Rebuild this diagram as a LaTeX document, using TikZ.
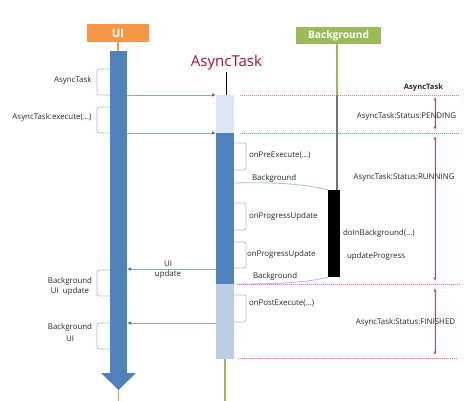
\documentclass[tikz,border=0pt]{standalone}
\usepackage{fontspec}
\setmainfont{Open Sans}
\usetikzlibrary{arrows.meta}
\definecolor{uiorange}{HTML}{F79646}
\definecolor{bggreen}{HTML}{9BBB59}
\definecolor{barblue}{HTML}{4F81BD}
\definecolor{palebl}{HTML}{DCE6F2}
\definecolor{lightbl}{HTML}{B9CDE5}
\definecolor{titlered}{HTML}{A8102A}
\definecolor{brk}{HTML}{AEBACB}
\definecolor{msgc}{HTML}{8DA8CE}
\definecolor{msgtip}{HTML}{4F6FA8}
\definecolor{dotred}{HTML}{FF6A7A}
\definecolor{arrred}{HTML}{F03040}
\definecolor{curvec}{HTML}{A3BFD9}
\begin{document}
\begin{tikzpicture}[x=1pt,y=-1pt,
  every node/.style={inner sep=0pt,outer sep=0pt},
  lbl/.style={font=\fontsize{7.9}{9.5}\selectfont,text=black!85},
  lblc/.style={lbl,align=center},
  header/.style={text=white},
  bar/.style={anchor=north west},
  brkt/.style={draw=brk,line width=0.7pt,rounded corners=2pt},
  msg/.style={draw=msgc,line width=0.8pt,-{Latex[length=4pt,width=3.5pt,color=msgtip]}},
  dotl/.style={draw=dotred,line width=0.8pt,dash pattern=on 1pt off 1pt},
  redarr/.style={draw=arrred,line width=0.7pt,{Latex[length=3.5pt,width=3pt]}-{Latex[length=3.5pt,width=3pt]}},
  curv/.style={draw=curvec,line width=0.8pt}
]
\useasboundingbox (0,0) rectangle (474,401);

% headers
\node[header,fill=uiorange,minimum width=62pt,minimum height=18pt,font=\bfseries\fontsize{11.5}{13}\selectfont] (uih) at (118,33) {UI};
\node[header,fill=bggreen,minimum width=85pt,minimum height=17pt,font=\bfseries\fontsize{10.2}{12}\selectfont] (bgh) at (338.5,35.5) {Background};
\node[text=titlered,font=\fontsize{15}{17}\selectfont] (att) at (226.5,63) {AsyncTask};

% UI bar (arrow)
\node[bar,fill=barblue,minimum width=17pt,minimum height=322pt] (uibar) at (110,51) {};
\fill[barblue] (101,373) -- (136,373) -- (118.5,390) -- cycle;
\coordinate (uiend) at (118.5,390);
\coordinate (uibot) at (118.5,401);
\draw[uiorange,line width=1.5pt] (uih.south) -- (uih.south |- uibar.north);
\draw[uiorange,line width=1.5pt] (uiend) -- (uibot);

% AsyncTask bar
\node[bar,fill=palebl,minimum width=18pt,minimum height=38pt] (at1) at (216,95) {};
\node[bar,fill=barblue,minimum width=18pt,minimum height=151pt] (at2) at (216,133) {};
\node[bar,fill=lightbl,minimum width=18pt,minimum height=75pt] (at3) at (216,284) {};
\coordinate (atbot) at (225,401);
\coordinate (attl) at (226,72);
\draw[black,line width=0.8pt] (attl) -- (attl |- at1.north);
\draw[bggreen,line width=1.5pt] (at3.south) -- (atbot);

% curves to/from background (drawn under the box)
\coordinate (c1s) at (234,183);
\coordinate (c1e) at (329,190);
\coordinate (c2s) at (329,277);
\coordinate (c2e) at (234,284);
\draw[curv] (c1s) .. controls (275,182) and (305,184) .. (c1e);
\draw[curv] (c2s) .. controls (305,283) and (275,284) .. (c2e);

% Background lane
\node[bar,fill=black,minimum width=12pt,minimum height=87pt] (bgbox) at (328,190) {};
\coordinate (bgmid) at (337,95);
\draw[bggreen,line width=1.5pt] (bgh.south -| bgmid) -- (bgmid);
\draw[black!55,line width=1.5pt] (bgmid) -- (bgmid |- bgbox.north);

% red dotted state lines
\coordinate (d1) at (240,95);
\coordinate (d1e) at (460,95);
\coordinate (d2) at (240,133);
\coordinate (d2e) at (460,133);
\coordinate (d3) at (239,284);
\coordinate (d3e) at (460,284);
\coordinate (d4) at (238,358);
\coordinate (d4e) at (458,358);
\draw[dotl] (d1) -- (d1e);
\draw[dotl] (d2) -- (d2e);
\draw[dotl] (d3) -- (d3e);
\draw[dotl] (d4) -- (d4e);

% red state arrows
\coordinate (p1) at (435,97);  \coordinate (p2) at (435,130);
\coordinate (r1) at (435,136); \coordinate (r2) at (435,281);
\coordinate (f1) at (435,288); \coordinate (f2) at (435,355);
\draw[redarr] (p1) -- (p2);
\draw[redarr] (r1) -- (r2);
\draw[redarr] (f1) -- (f2);

\node[lbl,font=\bfseries\fontsize{7.6}{9}\selectfont] (stt) at (423.5,88) {AsyncTask};
\node[lbl] (sp) at (406.5,116) {AsyncTask:Status:PENDING};
\node[lbl] (sr) at (404,177) {AsyncTask:Status:RUNNING};
\node[lbl] (sf) at (405.5,322) {AsyncTask:Status:FINISHED};

% left brackets and labels
\draw[brkt] (110,69) -- (97,69) -- (97,95) -- (110,95);
\draw[brkt] (110,107) -- (97,107) -- (97,133) -- (110,133);
\draw[brkt] (110,270) -- (97,270) -- (97,296) -- (110,296);
\draw[brkt] (110,323) -- (97,323) -- (97,349) -- (110,349);
\node[lbl,anchor=east] (l1) at (91.5,80) {AsyncTask};
\node[lbl,anchor=east] (l2) at (91.5,117) {AsyncTask:execute(...)};
\node[lblc] (l3) at (70,286.5) {Background\\[1pt]UI\ \ update};
\node[lblc] (l4) at (70,332.5) {Background\\[3pt]UI};

% messages
\coordinate (m1) at (0,95);
\coordinate (m2) at (0,133);
\coordinate (m3) at (0,269);
\coordinate (m4) at (0,323);
\draw[msg] (uibar.east |- m1) -- (at1.west |- m1);
\draw[msg] (uibar.east |- m2) -- (at2.west |- m2);
\draw[msg] (at2.west |- m3) -- (uibar.east |- m3);
\draw[msg] (at3.west |- m4) -- (uibar.east |- m4);
\node[lblc] (uiu) at (168,269.5) {UI\\update};

% right brackets and labels
\draw[brkt] (234,143) -- (246,143) -- (246,170) -- (234,170);
\draw[brkt] (234,203) -- (246,203) -- (246,230) -- (234,230);
\draw[brkt] (234,242) -- (246,242) -- (246,268) -- (234,268);
\draw[brkt] (234,295) -- (246,295) -- (246,322) -- (234,322);
\node[lbl,anchor=west] (r1l) at (249,155) {onPreExecute(...)};
\node[lbl,anchor=west] (r2l) at (249,216) {onProgressUpdate};
\node[lbl,anchor=west] (r3l) at (247,254) {onProgressUpdate};
\node[lbl,anchor=west] (r4l) at (249,303) {onPostExecute(...)};
\node[lbl,anchor=west] (bg1) at (252,178) {Background};
\node[lbl,anchor=west] (bg2) at (253,276) {Background};
\node[lbl,anchor=west] (dib) at (343,233) {doInBackground(...)};
\node[lbl,anchor=west] (upp) at (347,256) {updateProgress};
\end{tikzpicture}
\end{document}
